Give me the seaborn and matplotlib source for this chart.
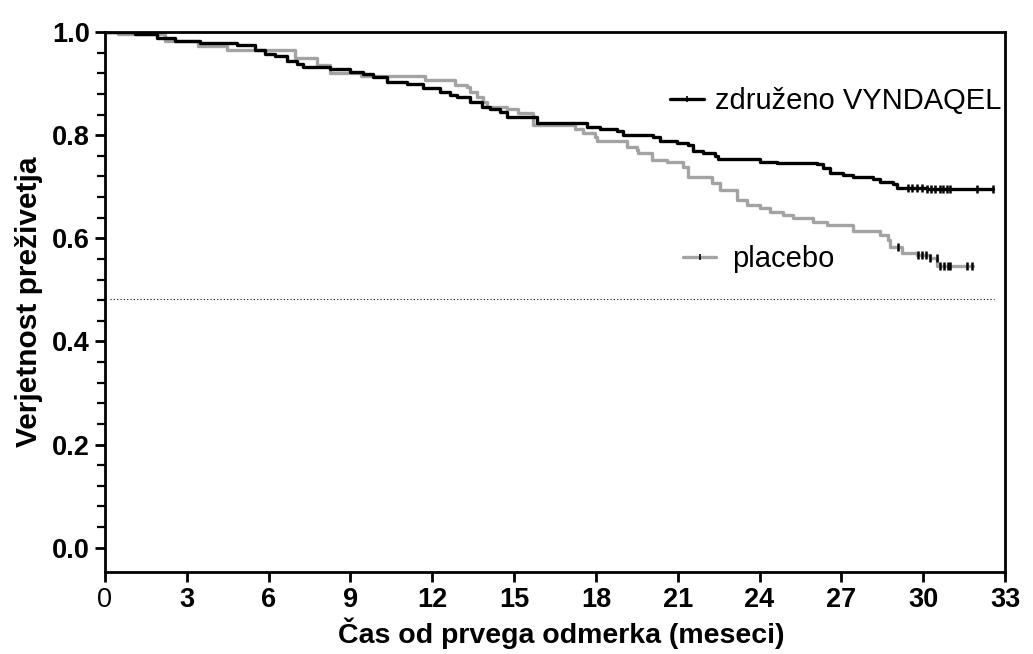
import matplotlib
matplotlib.use("Agg")
import matplotlib.pyplot as plt
from matplotlib.lines import Line2D
import numpy as np
import pandas as pd
import seaborn as sns

# Kaplan-Meier steps: (months, survival after step)
vyn_time = [0.0, 0.48, 1.10, 1.91, 2.57, 3.48, 4.84, 5.50, 5.87, 6.23, 6.67, 7.04, 7.26,
            8.25, 8.98, 9.46, 9.83, 10.34, 11.07, 11.66, 12.28, 12.65, 12.91, 13.38,
            13.82, 14.12, 14.48, 14.74, 15.84, 17.68, 18.15, 18.78, 19.00, 20.10, 20.35,
            20.98, 21.38, 21.56, 21.93, 22.37, 22.48, 24.02, 24.64, 26.11, 26.33, 26.59,
            27.06, 27.43, 28.16, 28.42, 28.90, 29.04, 30.14, 32.56]
vyn_surv = [1.000, 1.000, 0.996, 0.988, 0.983, 0.979, 0.975, 0.965, 0.957, 0.953, 0.944,
            0.938, 0.932, 0.928, 0.922, 0.919, 0.913, 0.903, 0.899, 0.891, 0.884, 0.878,
            0.874, 0.864, 0.855, 0.851, 0.845, 0.835, 0.824, 0.816, 0.812, 0.808, 0.800,
            0.797, 0.789, 0.785, 0.781, 0.769, 0.766, 0.760, 0.754, 0.748, 0.746, 0.744,
            0.736, 0.727, 0.723, 0.719, 0.715, 0.709, 0.705, 0.698, 0.695, 0.695]

pla_time = [0.0, 0.48, 2.20, 3.41, 4.47, 6.97, 7.77, 8.25, 9.40, 11.73, 12.83, 13.27, 13.38,
            13.64, 13.86, 14.01, 14.74, 15.14, 15.69, 17.23, 17.53, 17.97, 18.04, 19.14,
            19.51, 19.55, 20.06, 20.61, 21.20, 21.38, 22.26, 22.55, 23.18, 23.54, 24.02,
            24.39, 24.86, 25.23, 25.96, 26.48, 27.43, 28.42, 28.71, 28.79, 29.23, 29.78,
            30.25, 30.51, 31.83]
pla_surv = [1.000, 0.996, 0.983, 0.973, 0.965, 0.950, 0.936, 0.921, 0.915, 0.907, 0.897,
            0.893, 0.884, 0.874, 0.864, 0.855, 0.851, 0.843, 0.820, 0.812, 0.804, 0.797,
            0.789, 0.777, 0.771, 0.766, 0.752, 0.748, 0.738, 0.719, 0.707, 0.694, 0.674,
            0.665, 0.659, 0.651, 0.646, 0.640, 0.632, 0.626, 0.614, 0.607, 0.597, 0.583,
            0.572, 0.568, 0.562, 0.547, 0.547]

# censoring marks
vyn_cens = [29.45, 29.6, 29.78, 29.95, 30.14, 30.3, 30.44, 30.6, 30.73, 30.88, 30.99, 31.98, 32.56]
pla_cens = [29.08, 29.8, 29.95, 30.1, 30.25, 30.5, 30.62, 30.75, 30.9, 31.0, 31.6, 31.8]

ref_level = 0.483
x_ticks = list(range(0, 34, 3))
y_ticks = [0.0, 0.2, 0.4, 0.6, 0.8, 1.0]

label_vyn = "združeno VYNDAQEL"
label_pla = "placebo"

sns.set_style("ticks")
plt.rcParams["font.family"] = ["Liberation Sans", "DejaVu Sans"]
for key in ["text.color", "axes.labelcolor", "xtick.color", "ytick.color"]:
    plt.rcParams[key] = "black"

df = pd.concat([
    pd.DataFrame({"t": vyn_time, "s": vyn_surv, "grp": label_vyn}),
    pd.DataFrame({"t": pla_time, "s": pla_surv, "grp": label_pla}),
])
colors = {label_vyn: "black", label_pla: "#a3a3a3"}

fig = plt.figure(figsize=(10.33, 6.54), dpi=100)
ax = fig.add_axes([0.1016, 0.1254, 0.8713, 0.8257])

for grp in [label_pla, label_vyn]:
    sub = df[df["grp"] == grp]
    sns.lineplot(data=sub, x="t", y="s", ax=ax, color=colors[grp], lw=2.4,
                 drawstyle="steps-post", estimator=None, sort=False, legend=False)

def surv_at(times, survs, t):
    idx = np.searchsorted(times, t, side="right") - 1
    return survs[idx]

ax.plot(vyn_cens, [surv_at(vyn_time, vyn_surv, t) for t in vyn_cens], ls="none",
        marker="|", ms=6, mew=1.8, color="black")
ax.plot(pla_cens, [surv_at(pla_time, pla_surv, t) for t in pla_cens], ls="none",
        marker="|", ms=6, mew=1.8, color="black")

ax.hlines(ref_level, 0.2, 32.6, colors="black", linestyles=(0, (1, 2)), lw=0.8)

ax.set_xlim(0, 33)
ax.set_ylim(-0.047, 1.0)
ax.set_xticks(x_ticks)
ax.set_yticks(y_ticks)
ax.set_yticks(np.arange(0.04, 1.0, 0.04), minor=True)
ax.set_yticklabels([f"{v:.1f}" for v in y_ticks], fontsize=19.5, fontweight="bold")
ax.set_xticklabels([str(v) for v in x_ticks], fontsize=19.5)
for i, lab in enumerate(ax.get_xticklabels()):
    lab.set_fontweight("normal" if i == 0 else "bold")

for sp in ax.spines.values():
    sp.set_linewidth(2.0)
    sp.set_color("black")
ax.tick_params(axis="both", which="major", length=7, width=2.0, color="black", pad=4)
ax.tick_params(axis="y", which="minor", length=6, width=1.6, color="black")

ax.set_xlabel("Čas od prvega odmerka (meseci)", fontsize=20.5, fontweight="bold", labelpad=2)
ax.xaxis.set_label_coords(0.507, -0.085)
ax.set_ylabel("Verjetnost preživetja", fontsize=21.5, fontweight="bold", labelpad=6)

h_vyn = Line2D([], [], color="black", lw=2.4, marker="|", ms=5, mew=1.2, mec="black")
h_pla = Line2D([], [], color="#a3a3a3", lw=2.4, marker="|", ms=5, mew=1.2, mec="black")
leg1 = ax.legend([h_vyn], [label_vyn], loc="center left", bbox_to_anchor=(0.628, 0.872),
                 frameon=False, fontsize=21, handlelength=1.15, handletextpad=0.4,
                 borderpad=0, borderaxespad=0)
ax.add_artist(leg1)
ax.legend([h_pla], [label_pla], loc="center left", bbox_to_anchor=(0.642, 0.580),
          frameon=False, fontsize=21, handlelength=1.15, handletextpad=0.55,
          borderpad=0, borderaxespad=0)

fig.savefig("out.png", dpi=100)
